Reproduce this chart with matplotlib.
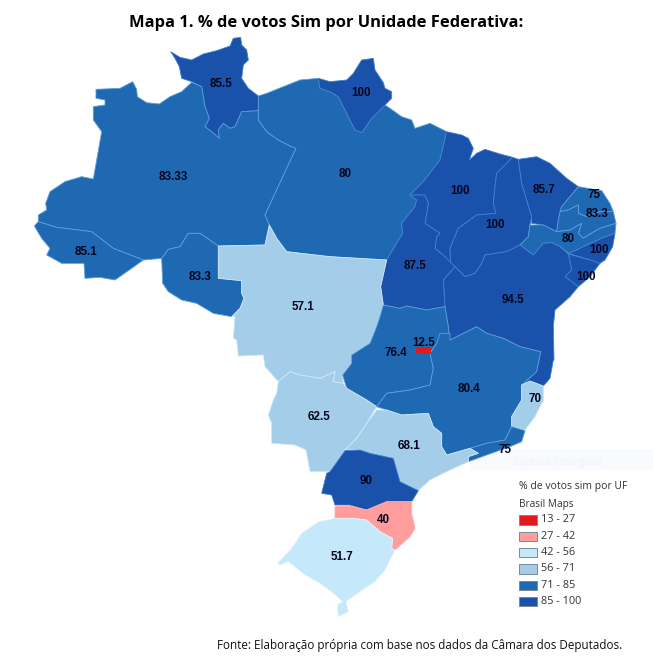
import matplotlib
matplotlib.use("Agg")
import matplotlib.pyplot as plt
from matplotlib.patches import Polygon, Rectangle
import numpy as np

TITLE = "Mapa 1. % de votos Sim por Unidade Federativa:"
SOURCE = "Fonte: Elaboração própria com base nos dados da Câmara dos Deputados."
LEGEND_TITLE = "% de votos sim por UF"
LEGEND_SUB = "Brasil Maps"
legend_labels = ["13 - 27", "27 - 42", "42 - 56", "56 - 71", "71 - 85", "85 - 100"]
legend_colors = ["#e31a1c", "#ff9c9c", "#c6e8fb", "#a3cde8", "#1f69b3", "#1a52ab"]
bin_edges = [27, 42, 56, 71, 85.3]

states = ["RR", "AM", "AC", "RO", "PA", "AP", "MA", "PI", "CE", "RN", "PB", "PE", "AL", "SE", "BA",
          "TO", "MT", "GO", "DF", "MS", "MG", "ES", "RJ", "SP", "PR", "SC", "RS"]
values = [85.5, 83.33, 85.1, 83.3, 80, 100, 100, 100, 85.7, 75, 83.3, 80, 100, 100, 94.5,
          87.5, 57.1, 76.4, 12.5, 62.5, 80.4, 70, 75, 68.1, 90, 40, 51.7]
label_xy = {"RR": (221, 84), "AM": (173, 177), "AC": (86, 252), "RO": (200, 277), "PA": (345, 174),
            "AP": (361, 93), "MA": (460, 191), "PI": (495, 225), "CE": (544, 190), "RN": (594, 195),
            "PB": (597, 214), "PE": (568, 239), "AL": (599, 250), "SE": (586, 277), "BA": (513, 300),
            "TO": (415, 266), "MT": (303, 307), "GO": (396, 353), "DF": (424, 343), "MS": (319, 417),
            "MG": (469, 389), "ES": (535, 399), "RJ": (505, 450), "SP": (409, 446), "PR": (366, 481),
            "SC": (383, 520), "RS": (342, 557)}


def z1(p):
    return [(x / 3, 30 + y / 3) for x, y in p]


def z2(p):
    return [(330 + x / 3, 60 + y / 3) for x, y in p]


def z3(p):
    return [(220 + x / 3, 300 + y / 3) for x, y in p]


shapes = {
    "RR": z1([(512, 65), (540, 82), (575, 90), (610, 72), (650, 62), (690, 48), (700, 25), (722, 22), (725, 45),
              (740, 60), (745, 90), (730, 105), (725, 145), (745, 175), (775, 198), (775, 242), (725, 245),
              (705, 290), (690, 295), (670, 280), (655, 300), (658, 325), (635, 305), (615, 290), (628, 265),
              (615, 230), (605, 170), (575, 155), (545, 145), (538, 110), (525, 85)]),
    "AM": z1([(288, 178), (360, 175), (398, 155), (410, 178), (412, 200), (440, 218), (478, 222), (510, 200),
              (545, 185), (575, 157), (605, 170), (615, 230), (628, 265), (615, 290), (635, 305), (658, 325),
              (655, 300), (670, 280), (690, 295), (705, 290), (725, 245), (775, 242), (775, 270), (800, 305),
              (835, 330), (875, 350), (888, 355), (795, 555), (808, 585), (795, 645), (655, 648), (600, 610),
              (565, 610), (540, 650), (505, 658), (485, 685), (430, 690), (340, 655), (275, 605), (170, 592),
              (115, 575), (115, 555), (140, 540), (137, 520), (150, 485), (195, 455), (245, 440), (280, 447),
              (305, 305), (280, 270), (280, 230), (315, 225), (315, 210), (288, 205)]),
    "AC": z1([(103, 588), (115, 575), (170, 592), (275, 605), (340, 655), (430, 690), (395, 715), (345, 750),
              (300, 742), (255, 745), (252, 700), (185, 700), (140, 675), (150, 655), (125, 625)]),
    "RO": z1([(485, 685), (505, 658), (540, 650), (565, 610), (600, 610), (655, 648), (655, 745), (725, 752),
              (725, 790), (732, 805), (720, 835), (695, 860), (640, 850), (590, 820), (545, 810), (505, 785),
              (488, 760)]),
    "PA": z1([(775, 198), (800, 190), (850, 170), (900, 150), (955, 145), (960, 175), (990, 185)])
          + z2([(0, 95), (25, 110), (45, 150), (75, 210), (95, 218), (125, 175), (165, 135), (180, 145), (215, 170),
                (245, 180), (255, 205), (300, 190), (350, 215), (330, 300), (280, 365), (240, 405), (260, 420),
                (255, 440), (215, 490), (218, 520), (170, 600), (0, 590)])
          + z1([(860, 665), (830, 625), (808, 585), (795, 555), (888, 355), (875, 350), (835, 330), (800, 305),
                (775, 270), (775, 242)]),
    "AP": z1([(955, 145), (960, 175), (990, 185)])
          + z2([(0, 95), (25, 110), (45, 150), (75, 210), (95, 218), (125, 175), (165, 135), (185, 115), (185, 95),
                (165, 85), (160, 68), (135, 30), (130, -5), (95, 0), (70, 40), (50, 60), (0, 65)]),
    "MA": z2([(350, 215), (395, 225), (415, 235), (430, 265), (418, 300), (440, 280), (465, 268), (510, 282),
              (548, 292), (500, 340), (495, 380), (490, 430), (498, 460), (440, 465), (385, 505), (360, 565),
              (362, 610), (345, 590), (315, 565), (320, 530), (330, 520), (285, 490), (295, 430), (285, 405),
              (240, 405), (280, 365), (330, 300)]),
    "PI": z2([(548, 292), (565, 298), (575, 370), (605, 470), (600, 495), (595, 530), (570, 555), (530, 575),
              (465, 585), (455, 610), (435, 640), (405, 650), (375, 620), (362, 610), (360, 565), (385, 505),
              (440, 465), (498, 460), (490, 430), (495, 380), (500, 340)]),
    "CE": z2([(565, 298), (620, 290), (660, 310), (710, 355), (745, 380), (695, 440), (685, 480), (680, 515),
              (640, 495), (605, 490), (605, 470), (575, 370)]),
    "RN": z2([(745, 380), (815, 392), (840, 430), (850, 455), (810, 455), (770, 470), (745, 460), (745, 435),
              (715, 450), (690, 455), (695, 440)]),
    "PB": z2([(690, 455), (715, 450), (745, 435), (745, 460), (770, 470), (810, 455), (850, 455), (858, 490),
              (810, 505), (775, 525), (760, 535), (745, 520), (755, 490), (720, 510), (680, 515), (685, 480)]),
    "PE": z2([(600, 495), (640, 495), (680, 515), (720, 510), (755, 490), (745, 520), (760, 535), (775, 525),
              (810, 505), (858, 490), (855, 520), (815, 535), (770, 555), (740, 570), (715, 580), (690, 560),
              (665, 548), (640, 550), (610, 585), (590, 570), (570, 555), (595, 530)]),
    "AL": z2([(855, 520), (848, 560), (825, 600), (810, 610), (780, 600), (715, 580), (740, 570), (770, 555),
              (815, 535)]),
    "SE": z2([(715, 582), (780, 600), (810, 610), (780, 650), (745, 680), (705, 650), (725, 630)]),
    "BA": z2([(570, 555), (590, 570), (610, 585), (640, 550), (665, 548), (690, 560), (715, 582), (725, 630),
              (705, 650), (745, 680), (720, 710), (675, 750), (670, 800), (672, 900)])
          + z3([(1000, 180), (990, 235), (970, 258), (930, 243), (905, 255), (950, 215), (962, 155), (900, 140),
                (850, 115), (800, 100), (770, 80), (690, 120)])
          + z2([(358, 835), (355, 800), (345, 740), (340, 660), (375, 620), (405, 650), (435, 640), (455, 610),
                (465, 585), (530, 575)]),
    "TO": z2([(240, 405), (285, 405), (295, 430), (285, 490), (330, 520), (320, 530), (315, 565), (345, 590),
              (375, 620), (340, 660), (345, 740), (290, 750), (230, 738), (210, 745), (160, 735), (152, 680),
              (170, 600), (218, 520), (215, 490), (255, 440), (260, 420)]),
    "MT": z1([(655, 648), (795, 645), (808, 585), (830, 625), (860, 665), (990, 680)])
          + z2([(170, 600), (152, 680), (160, 735)])
          + z3([(480, 50), (470, 80), (450, 130), (395, 165), (395, 190), (368, 225), (370, 250),
                (340, 245), (345, 215), (300, 235), (240, 225), (210, 215), (175, 245), (135, 200), (130, 165),
                (55, 168), (50, 120), (40, 115), (45, 50)])
          + z1([(695, 860), (720, 835), (732, 805), (725, 790), (725, 752), (655, 745)]),
    "GO": z2([(160, 735), (210, 745), (230, 738), (290, 750), (345, 740), (355, 800), (358, 835), (335, 825)])
          + z3([(650, 130), (630, 160), (640, 205), (630, 255), (570, 270), (500, 280), (470, 320), (440, 300),
                (380, 265), (368, 225), (395, 190), (395, 165), (450, 130), (470, 80), (480, 50)]),
    "DF": z3([(588, 140), (630, 140), (630, 160), (588, 160)]),
    "MS": z3([(175, 245), (210, 215), (240, 225), (300, 235), (345, 215), (340, 245), (370, 250), (380, 265),
              (440, 300), (470, 320), (440, 370), (410, 415), (375, 450), (330, 515), (270, 515), (258, 450),
              (225, 435), (155, 430), (155, 370), (145, 345), (160, 300), (170, 280)]),
    "MG": z3([(470, 320), (500, 280), (570, 270), (630, 255), (640, 205), (630, 160), (650, 130), (660, 100),
              (690, 100), (690, 120), (770, 80), (800, 100), (850, 115), (900, 140), (962, 155), (950, 215),
              (905, 255), (905, 300), (875, 350), (875, 380), (855, 420), (800, 430), (750, 445), (680, 465),
              (665, 440), (665, 400), (640, 380), (625, 340), (545, 345), (500, 330)]),
    "ES": z3([(905, 255), (930, 243), (970, 258), (970, 300), (945, 350), (915, 390), (875, 380), (875, 350),
              (905, 300)]),
    "RJ": z3([(875, 380), (915, 392), (905, 425), (870, 440), (800, 465), (745, 485), (745, 470), (775, 460),
              (750, 445), (800, 430), (855, 420)]),
    "SP": z3([(500, 330), (545, 345), (625, 340), (640, 380), (665, 400), (665, 440), (680, 465), (750, 445),
              (775, 460), (745, 470), (745, 485), (680, 515), (630, 540), (595, 572), (540, 545), (520, 475),
              (450, 460), (420, 450), (375, 450), (410, 415), (440, 370), (470, 330)]),
    "PR": z3([(375, 452), (420, 450), (450, 460), (520, 475), (540, 545), (595, 572), (575, 605), (500, 605),
              (440, 630), (390, 615), (345, 615), (335, 585), (305, 580), (320, 520), (330, 515)]),
    "SC": z3([(345, 620), (390, 618), (440, 630), (500, 605), (575, 605), (575, 640), (585, 685), (570, 710),
              (525, 750), (515, 745), (518, 715), (480, 695), (440, 660), (400, 655), (345, 655)]),
    "RS": z3([(345, 655), (400, 655), (440, 660), (480, 695), (518, 715), (515, 745), (525, 750), (495, 810),
              (465, 845), (420, 875), (378, 905), (385, 935), (355, 950), (352, 915), (368, 905), (340, 880),
              (300, 850), (255, 825), (205, 785), (180, 795), (172, 790), (215, 745), (245, 700), (295, 665)]),
}

edge_colors = {"#e31a1c": "#e31a1c", "#ff9c9c": "#ffb0b0", "#c6e8fb": "#e4f5fe", "#a3cde8": "#d0e8f6",
               "#1f69b3": "#5c9ddc", "#1a52ab": "#3f7fd0"}

fig = plt.figure(figsize=(6.53, 6.56), dpi=100)
ax = fig.add_axes([0, 0, 1, 1])
ax.set_xlim(0, 653)
ax.set_ylim(656, 0)
ax.axis("off")

ax.add_patch(Rectangle((470, 449), 183, 21, fc="#f8fafd", ec="none", zorder=0))
ax.text(514, 462, "Captura Retangular", fontsize=7, color="#eef2f8", family="Open Sans",
        va="center", zorder=1)

for name, val in zip(states, values):
    col = legend_colors[int(np.digitize(val, bin_edges))]
    ax.add_patch(Polygon(shapes[name], closed=True, fc=col, ec=edge_colors[col], lw=0.6, joinstyle="round",
                         zorder=5 if name == "DF" else 2))

for name, val in zip(states, values):
    x, y = label_xy[name]
    ax.text(x, y, f"{val:g}", ha="center", va="center", fontsize=8.4, fontweight="bold",
            family="Liberation Sans", color="#05051e", zorder=6)

ax.text(326, 23, TITLE, ha="center", va="center", fontsize=11.87, fontweight="bold", family="Open Sans",
        color="black")
ax.text(217, 645, SOURCE, ha="left", va="center", fontsize=8.37, family="Open Sans", color="#111111")

ax.text(519, 487, LEGEND_TITLE, ha="left", va="center", fontsize=7.5, family="Open Sans", color="#333333")
ax.text(519, 505, LEGEND_SUB, ha="left", va="center", fontsize=7.2, family="Open Sans", color="#333333")
for i, (lab, col) in enumerate(zip(legend_labels, legend_colors)):
    yc = 520 + i * 16.33
    ax.add_patch(Rectangle((518.5, yc - 4.7), 18, 9.4, fc=col, ec="#7a8a96", lw=0.7, zorder=3))
    ax.text(541, yc, lab, ha="left", va="center", fontsize=7.8, family="Open Sans", color="#333333")

fig.savefig("out.png", dpi=100)
